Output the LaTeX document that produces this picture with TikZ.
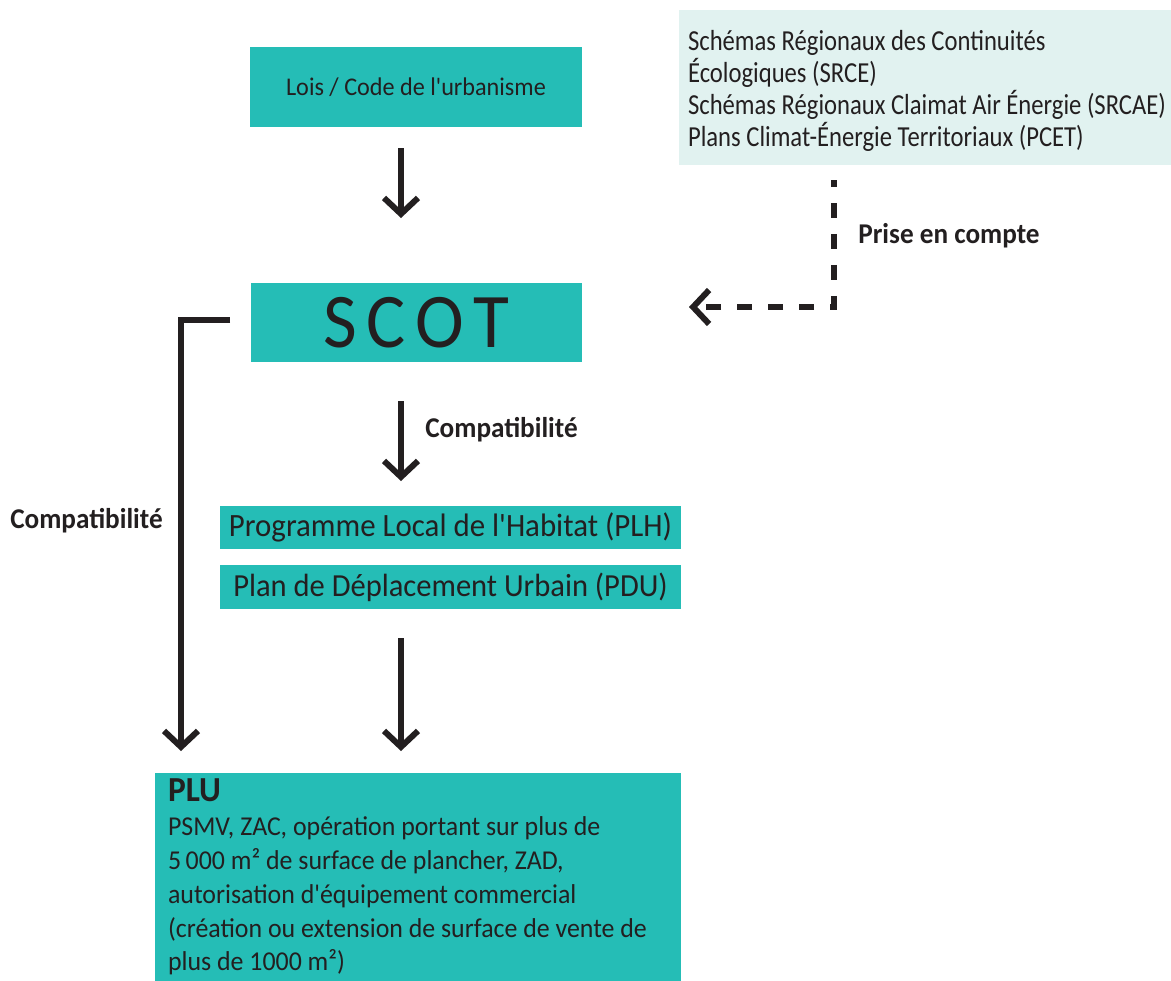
\documentclass[tikz,border=0pt]{standalone}
\usepackage{fontspec}
\defaultfontfeatures[\rmfamily]{}
\setmainfont{Carlito}[FakeStretch=0.95]
\newfontfamily\narrowfont{Carlito}[FakeStretch=0.85]
\usetikzlibrary{arrows.meta}

\definecolor{tealbox}{HTML}{25BDB6}
\definecolor{palebox}{HTML}{E1F2F0}
\definecolor{ink}{HTML}{231F20}

\tikzset{
  box/.style={fill=tealbox, text=ink, inner sep=0pt, align=center},
  arr/.style={line width=3.4pt, draw=ink, -{Straight Barb[length=0.32cm,width=0.68cm]}},
  prise/.style={arr, dash pattern=on 0.3cm off 0.32cm, dash phase=0.16cm},
  lbl/.style={text=ink, inner sep=0pt, font=\bfseries\fontsize{16.3}{18}\selectfont},
}

\begin{document}
\begin{tikzpicture}[x=0.02cm,y=-0.02cm]
  \fill[white] (0,0) rectangle (1171,981);
  \useasboundingbox (0,0) rectangle (1171,981);

  % boxes
  \node[box, minimum width=6.64cm, minimum height=1.6cm,
        font=\fontsize{14.5}{17}\selectfont] (lois) at (416,87) {Lois / Code de l'urbanisme};
  \node[box, fill=palebox, minimum width=9.84cm, minimum height=3.1cm] (srce) at (925,87.5) {};
  \node[text=ink, inner sep=0pt, anchor=west, align=left,
        font=\narrowfont\fontsize{16.5}{18.2}\selectfont] (srcetxt) at ([xshift=0.18cm,yshift=-0.06cm]srce.west)
        {Schémas Régionaux des Continuités\\
         Écologiques (SRCE)\\
         Schémas Régionaux Claimat Air Énergie (SRCAE)\\
         Plans Climat-Énergie Territoriaux (PCET)};
  \node[box, minimum width=6.62cm, minimum height=1.58cm,
        font=\fontsize{44}{48}\selectfont] (scot) at (416.5,322.5)
        {S\hspace{5.5pt}C\hspace{5.5pt}O\hspace{5.5pt}T};
  \node[box, minimum width=9.22cm, minimum height=0.86cm,
        font=\fontsize{18.5}{21}\selectfont] (plh) at (450.5,527.5) {Programme Local de l'Habitat (PLH)};
  \node[box, minimum width=9.22cm, minimum height=0.88cm,
        font=\fontsize{18.3}{21}\selectfont] (pdu) at (450.5,587) {Plan de Déplacement Urbain (PDU)};
  \node[box, minimum width=10.52cm, minimum height=4.16cm,
        text width=10cm, inner xsep=0.26cm, align=flush left,
        font=\fontsize{15.5}{19.3}\selectfont] (plu) at (418,877)
        {{\bfseries\fontsize{20}{19.3}\selectfont PLU}\\
         PSMV, ZAC, opération portant sur plus de\\
         5\,000 m² de surface de plancher, ZAD,\\
         autorisation d'équipement commercial\\
         (création ou extension de surface de vente de\\
         plus de 1000 m²)};

  % arrows
  \coordinate (a1s) at (401,148); \coordinate (a1e) at (401,218);
  \coordinate (a2s) at (401,401); \coordinate (a2e) at (401,481);
  \coordinate (a3s) at (401,638); \coordinate (a3e) at (401,751);
  \draw[arr] (a1s) -- (a1e);
  \draw[arr] (a2s) -- (a2e);
  \draw[arr] (a3s) -- (a3e);

  \coordinate (bs) at (230,320); \coordinate (bc) at (181,320); \coordinate (be) at (181,751);
  \draw[arr] (bs) -- (bc) -- (be);

  \coordinate (ps) at (834,180); \coordinate (pc) at (834,307); \coordinate (pe) at (689,307);
  \draw[prise] (ps) -- (pc) -- (pe);

  % labels
  \node[lbl, anchor=west] (comp1) at (425,430) {Compatibilité};
  \node[lbl, anchor=west] (comp2) at (10,521) {Compatibilité};
  \node[lbl, anchor=west] (prisec) at (858,236) {Prise en compte};
\end{tikzpicture}
\end{document}
